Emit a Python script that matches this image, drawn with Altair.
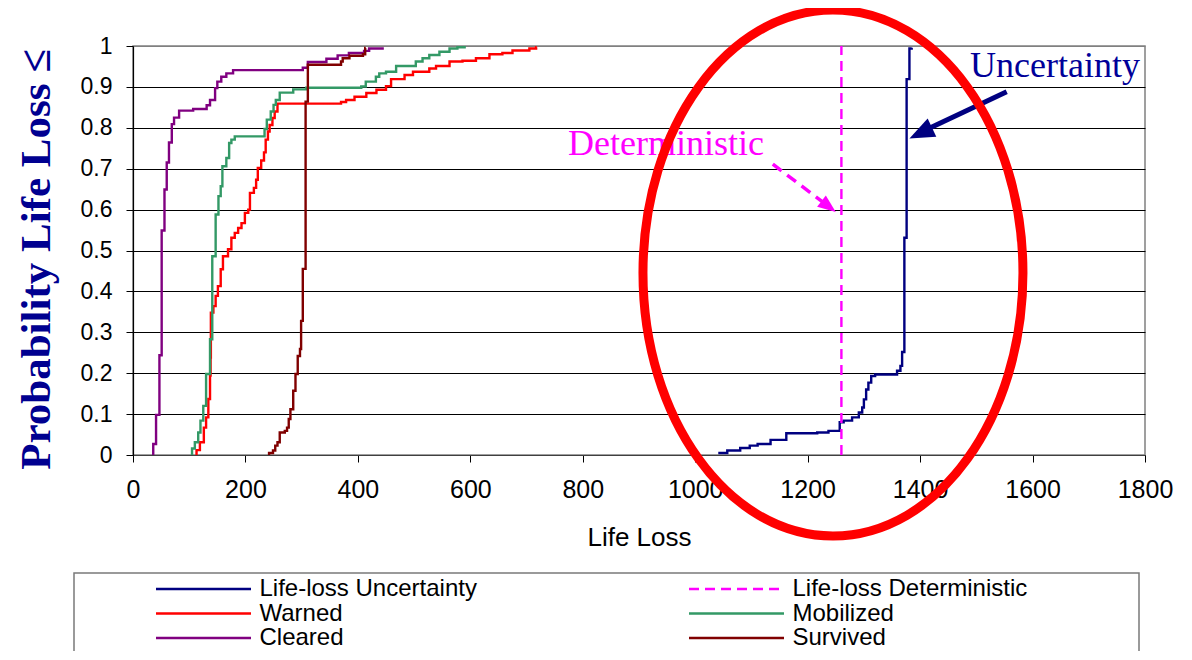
import altair as alt
import pandas as pd

# ---------------- data ----------------
SERIES = ["Life-loss Uncertainty", "Life-loss Deterministic", "Warned",
          "Mobilized", "Cleared", "Survived"]
COLORS = ["#000080", "#FF00FF", "#FF0000", "#339966", "#800080", "#800000"]
DASHES = [[1, 0], [10, 6], [1, 0], [1, 0], [1, 0], [1, 0]]

unc_x = [1041, 1057, 1080, 1097, 1111, 1134, 1162, 1217, 1237, 1257, 1264, 1279,
         1291, 1297, 1300, 1304, 1308, 1313, 1320, 1359, 1365, 1368, 1372, 1376,
         1381, 1385]
unc_p = [0.005, 0.011, 0.017, 0.023, 0.027, 0.037, 0.053, 0.055, 0.059, 0.080,
         0.084, 0.092, 0.104, 0.116, 0.136, 0.160, 0.177, 0.193, 0.197, 0.206,
         0.218, 0.252, 0.531, 0.919, 0.994, 0.996]

det_x = [1260, 1260]
det_p = [0.0, 1.0]

warned_x = [113, 113, 119, 126, 130, 134, 137, 138, 138.5, 143, 147, 151, 156,
            160, 169, 175, 181, 187, 193, 199, 205, 208, 215, 219, 222, 228, 233,
            236, 240, 243, 248, 252, 257, 370, 379, 394, 415, 433, 450, 459, 483,
            498, 527, 539, 563, 586, 610, 634, 657, 675, 705, 717, 718]
warned_p = [0.0, 0.012, 0.031, 0.067, 0.092, 0.137, 0.194, 0.238, 0.348, 0.364,
            0.389, 0.413, 0.454, 0.486, 0.503, 0.531, 0.543, 0.555, 0.567, 0.592,
            0.600, 0.641, 0.653, 0.673, 0.702, 0.720, 0.740, 0.771, 0.791, 0.807,
            0.824, 0.840, 0.859, 0.863, 0.868, 0.876, 0.885, 0.893, 0.902, 0.919,
            0.929, 0.937, 0.945, 0.951, 0.962, 0.964, 0.970, 0.980, 0.983, 0.989,
            0.994, 0.997, 0.997]

mob_x = [105, 105, 110, 116, 120, 125, 130, 137, 141, 147, 152, 156, 159, 166,
         171, 175, 181, 234, 238, 245, 250, 254, 261, 285, 308, 406, 414, 432,
         438, 450, 468, 503, 515, 527, 545, 563, 577, 592]
mob_p = [0.0, 0.016, 0.031, 0.055, 0.084, 0.120, 0.198, 0.283, 0.486, 0.588,
         0.633, 0.657, 0.706, 0.726, 0.763, 0.771, 0.779, 0.797, 0.820, 0.840,
         0.856, 0.868, 0.886, 0.894, 0.898, 0.901, 0.913, 0.925, 0.933, 0.937,
         0.951, 0.962, 0.970, 0.978, 0.986, 0.994, 0.997, 0.997]

clr_x = [36, 36, 41, 47, 51, 56, 60, 64, 69, 73, 82, 107, 131, 137, 146, 150,
         157, 166, 178, 302, 311, 344, 364, 384, 411, 420, 444]
clr_p = [0.0, 0.027, 0.098, 0.244, 0.549, 0.649, 0.715, 0.764, 0.809, 0.825,
         0.842, 0.846, 0.855, 0.868, 0.897, 0.913, 0.925, 0.933, 0.941, 0.947,
         0.961, 0.969, 0.977, 0.983, 0.988, 0.994, 0.997]

surv_x = [242, 242, 249, 253, 257, 261, 270, 274, 277, 280, 285, 289, 293, 297,
          299, 302, 307, 311, 370, 373, 385, 409, 413, 414]
surv_p = [0.0, 0.005, 0.011, 0.023, 0.031, 0.055, 0.059, 0.067, 0.088, 0.112,
          0.157, 0.198, 0.242, 0.259, 0.328, 0.455, 0.864, 0.954, 0.962, 0.970,
          0.976, 0.980, 0.995, 0.995]

X_TICKS = [0, 200, 400, 600, 800, 1000, 1200, 1400, 1600, 1800]
Y_TICKS = [0, 0.1, 0.2, 0.3, 0.4, 0.5, 0.6, 0.7, 0.8, 0.9, 1.0]

# annotation anchors (data coordinates)
ann_text = ["Deterministic", "Uncertainty"]
ann_x = [948, 1640]
ann_p = [0.7335, 0.9235]
det_arrow_x = [1138, 1237]
det_arrow_p = [0.711, 0.608]
det_tip_x, det_tip_p = [1250], [0.594]
unc_arrow_x = [1554, 1406]
unc_arrow_p = [0.888, 0.792]
unc_tip_x, unc_tip_p = [1381], [0.774]
ell_x, ell_p = [1245], [0.445]

# ---------------- build table ----------------
parts = []
for name, xs, ps in [
    ("Life-loss Uncertainty", unc_x, unc_p),
    ("Life-loss Deterministic", det_x, det_p),
    ("Warned", warned_x, warned_p),
    ("Mobilized", mob_x, mob_p),
    ("Cleared", clr_x, clr_p),
    ("Survived", surv_x, surv_p),
]:
    parts.append(pd.DataFrame({"series": name, "x": xs, "p": ps,
                               "i": range(len(xs))}))
df = pd.concat(parts, ignore_index=True)

LABEL_FONT = "Liberation Sans"
SERIF = "Liberation Serif"

xscale = alt.Scale(domain=[0, 1800], nice=False, zero=False)
yscale = alt.Scale(domain=[0, 1], nice=False, zero=False)

X = alt.X("x:Q", scale=xscale,
          axis=alt.Axis(values=X_TICKS, format="d", title="Life Loss", grid=False,
                        labelFlush=False, labelOverlap=False,
                        labelFont=LABEL_FONT, labelFontSize=25, labelColor="black",
                        labelPadding=15, tickSize=7, tickColor="black",
                        domainColor="#404040", domainWidth=1.2,
                        titleFont=LABEL_FONT, titleFontSize=26,
                        titleFontWeight="normal", titleColor="black",
                        titleY=82, titleBaseline="middle"))
Y = alt.Y("p:Q", scale=yscale,
          axis=alt.Axis(values=Y_TICKS, format="~g", title="Probability Life Loss ≤",
                        grid=True,
                        gridColor={"condition": {"test": "datum.value >= 0.999",
                                                 "value": "#808080"},
                                   "value": "#000000"},
                        gridWidth=1, labelFlush=False, labelOverlap=False,
                        labelFont=LABEL_FONT, labelFontSize=23, labelColor="black",
                        labelPadding=14, tickSize=7, tickColor="black",
                        domainColor="black", domainWidth=1.2,
                        titleFont=SERIF, titleFontSize=43, titleFontWeight="bold",
                        titleColor="#000090", titleAngle=270,
                        titleX=-97, titleY=213, titleAlign="center",
                        titleBaseline="middle"))

legend_kw = dict(
    title=None, orient="none", legendX=23, legendY=531, columns=2,
    direction="horizontal",
    symbolType="M-4.75,0H4.75", symbolSize=400, symbolStrokeWidth=2.5,
    symbolOffset=35.5, symbolFillColor="transparent",
    labelFont=LABEL_FONT, labelFontSize=24, labelColor="black",
    labelOffset=44, rowPadding=0.5, columnPadding=207, padding=0,
    labelLimit=400,
)

lines = alt.Chart(df).mark_line(interpolate="step-after", strokeWidth=2.4).encode(
    x=X, y=Y,
    color=alt.Color("series:N", scale=alt.Scale(domain=SERIES, range=COLORS),
                    legend=alt.Legend(**legend_kw)),
    strokeDash=alt.StrokeDash("series:N", scale=alt.Scale(domain=SERIES, range=DASHES),
                              legend=alt.Legend(**legend_kw)),
    detail="series:N",
    order="i:Q",
)

t_det = alt.Chart(pd.DataFrame({"x": ann_x[:1], "p": ann_p[:1], "t": ann_text[:1]})).mark_text(
    font=SERIF, fontSize=36, color="#FF00FF", align="center", baseline="alphabetic"
).encode(x=X, y=Y, text="t:N")

t_unc = alt.Chart(pd.DataFrame({"x": ann_x[1:], "p": ann_p[1:], "t": ann_text[1:]})).mark_text(
    font=SERIF, fontSize=36, color="#000099", align="center", baseline="alphabetic"
).encode(x=X, y=Y, text="t:N")

det_shaft = alt.Chart(pd.DataFrame({"x": det_arrow_x, "p": det_arrow_p})).mark_line(
    color="#FF00FF", strokeWidth=3.5, strokeDash=[11, 7]).encode(x=X, y=Y)
unc_shaft = alt.Chart(pd.DataFrame({"x": unc_arrow_x, "p": unc_arrow_p})).mark_line(
    color="#000080", strokeWidth=5).encode(x=X, y=Y)

ARROW = "M0,0 L-2,-0.8 L-2,0.8 Z"
det_head = alt.Chart(pd.DataFrame({"x": det_tip_x, "p": det_tip_p})).mark_point(
    shape=ARROW, filled=True, color="#FF00FF", opacity=1, size=324, angle=37.3
).encode(x=X, y=Y)
unc_head = alt.Chart(pd.DataFrame({"x": unc_tip_x, "p": unc_tip_p})).mark_point(
    shape=ARROW, filled=True, color="#000080", opacity=1, size=625, angle=154.4
).encode(x=X, y=Y)

ELLIPSE = "M-0.7224,0A0.7224,1,0,1,0,0.7224,0A0.7224,1,0,1,0,-0.7224,0Z"
ellipse = alt.Chart(pd.DataFrame({"x": ell_x, "p": ell_p})).mark_point(
    shape=ELLIPSE, filled=False, stroke="#FF0000", strokeWidth=9, opacity=1,
    size=276676
).encode(x=X, y=Y)

legend_box = alt.Chart(pd.DataFrame({"a": [0]})).mark_rect(
    fillOpacity=0, stroke="#7a7a7a", strokeWidth=1.5
).encode(x=alt.value(-59), x2=alt.value(1006), y=alt.value(527), y2=alt.value(720))

chart = alt.layer(
    lines, t_det, t_unc, det_shaft, unc_shaft, det_head, unc_head, ellipse, legend_box
).properties(
    width=1012, height=409,
    autosize=alt.AutoSizeParams(type="none"),
    padding={"left": 125, "top": 38, "right": 30, "bottom": 196},
    background="white",
).configure_view(
    stroke="#808080", strokeWidth=1.5
)

chart.save("out.html", embed_options={"renderer": "svg", "actions": False})
